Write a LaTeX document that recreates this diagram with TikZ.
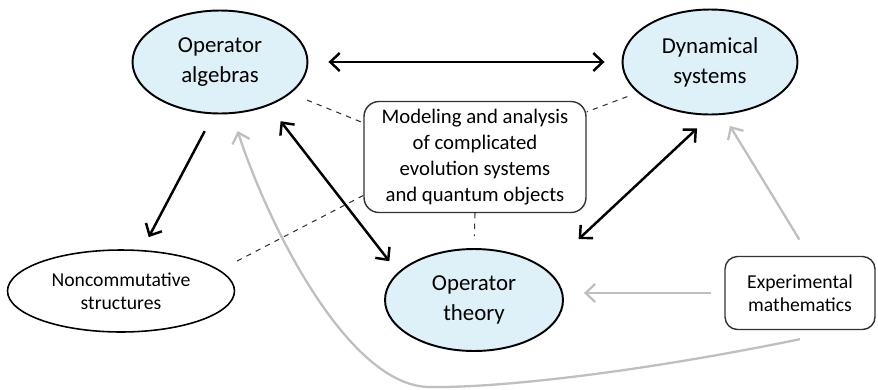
\documentclass[tikz,border=0pt]{standalone}
\usepackage{fontspec}
\setmainfont{Carlito}
\usetikzlibrary{shapes.geometric, arrows.meta}
\definecolor{ovalblue}{RGB}{222,240,248}

\begin{document}
\begin{tikzpicture}[x=0.02cm, y=-0.02cm,
  >={Straight Barb[length=1.9mm,width=3.6mm]},
  topic/.style={ellipse, draw, line width=1.1pt, fill=ovalblue, inner sep=0pt, align=center, font=\fontsize{13}{17}\selectfont},
  side/.style={ellipse, draw, line width=0.9pt, inner sep=0pt, align=center, font=\fontsize{11.2}{13}\selectfont},
  note/.style={draw=black!80, line width=0.8pt, align=center, inner sep=0pt},
  link/.style={line width=1.4pt},
  feed/.style={line width=1.3pt, draw=black!25, ->},
  aside/.style={dashed, line width=0.6pt, draw=black!80}]
\useasboundingbox (0,0) rectangle (878,389);

% Topics
\node[topic, minimum width=3.5cm, minimum height=2.06cm] (oa) at (220,62) {Operator\\algebras};
\node[topic, minimum width=3.5cm, minimum height=2.1cm] (ds) at (710,62) {Dynamical\\systems};
\node[topic, minimum width=3.56cm, minimum height=2.04cm] (ot) at (474,300) {Operator\\theory};
\node[side, minimum width=4.54cm, minimum height=1.64cm] (nc) at (121,291) {Noncommutative\\structures};

% Boxes
\node[note, rounded corners=0.3cm, minimum width=4.44cm, minimum height=2.22cm, font=\fontsize{11.8}{14.7}\selectfont] (box) at (475,157) {Modeling and analysis\\of complicated\\evolution systems\\and quantum objects};
\node[note, rounded corners=0.25cm, minimum width=3cm, minimum height=1.46cm, font=\fontsize{11.2}{13}\selectfont] (em) at (800,293) {Experimental\\mathematics};

% Black arrows
\draw[link, <->, shorten <=0.4cm, shorten >=0.34cm] (oa) -- (ds);
\draw[link, ->, shorten <=0.38cm, shorten >=0.29cm] (oa.263) -- (nc.63);
\draw[link, <->, shorten <=0.39cm, shorten >=0.28cm] (oa.318) -- (ot.160);
\draw[link, <->, shorten <=0.88cm, shorten >=0.38cm] (ot.23) -- (ds.271);

% Dashed links to the box
\draw[aside, shorten <=0.35cm] (oa.336) -- (box.163);
\draw[aside, shorten <=0.22cm] (ds.203) -- (box.22);
\draw[aside, shorten >=0.24cm] (box.south) -- (ot.north);
\draw[aside, shorten >=0.32cm] (box.199) -- (nc.12);

% Gray arrows
\draw[feed, shorten <=0.26cm, shorten >=0.4cm] (em.west) -- (em.west -| ot.east);
\draw[feed, shorten <=0.38cm, shorten >=0.26cm] (em.76) -- (ds.284);
\draw[feed, shorten >=0.36cm] ([yshift=-0.18cm]em.south) .. controls (640,372) and (500,388) .. (430,387)
  .. controls (350,387) and (270,230) .. (oa.283);
\end{tikzpicture}
\end{document}
